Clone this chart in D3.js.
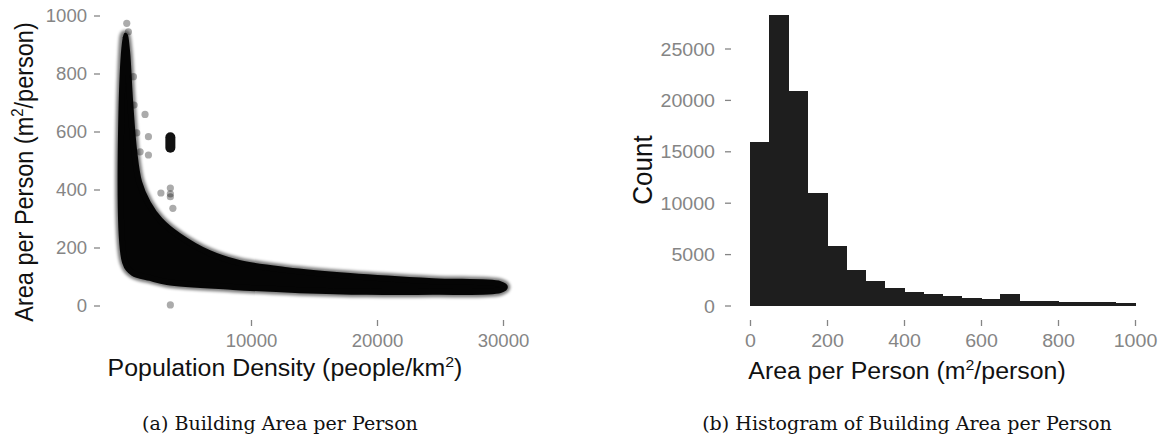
<!DOCTYPE html>
<html>
<head>
<meta charset="utf-8">
<script src="https://cdn.jsdelivr.net/npm/d3@7"></script>
<style>
  body { margin: 0; background: #fff; }
</style>
</head>
<body>
<svg id="mainsvg" width="1160" height="444"></svg>
<script>
// (a) scatter: outline of the dense cloud, [density, area]
const cloudTop = [[0, 930], [170, 874], [400, 709], [720, 536], [1120, 426], [1830, 353], [2780, 295],
  [4290, 240], [6670, 181], [9050, 147], [12860, 122], [17860, 102], [24440, 84], [29760, 74], [30150, 64]]
const cloudBottom = [[29760, 53], [24440, 47], [19200, 47], [13890, 53], [8580, 64], [3340, 81],
  [1990, 95], [640, 112], [0, 150]]
// loose points outside the cloud
const strayDensity = [140, 270, 670, 720, 935, 1200, 1590, 1860, 1860, 2850, 3600, 3600, 3600, 3800, 3600]
const strayArea = [973, 944, 789, 691, 595, 530, 659, 582, 519, 388, 405, 385, 375, 335, 2]
// the tight stack of points near 3600 people/km2
const stackDensity = 3600
const stackArea = [544, 580]

// (b) histogram, bins of 50 m2/person
const binStart = [0, 50, 100, 150, 200, 250, 300, 350, 400, 450, 500, 550, 600, 650, 700, 750, 800, 850, 900, 950]
const binCount = [15900, 28300, 20900, 10900, 5800, 3500, 2350, 1750, 1350, 1080, 900, 700, 620, 1100, 480, 420, 330, 300, 300, 280]
const binWidth = 50

const densityTicks = [10000, 20000, 30000]
const areaTicks = [0, 200, 400, 600, 800, 1000]
const countTicks = [0, 5000, 10000, 15000, 20000, 25000]

const svg = d3.select('#mainsvg')
const SX = 1.06   // the figure is a bit wider than tall
const tickGrey = '#858585'
const sans = '"Liberation Sans", Arial, sans-serif'

const defs = svg.append('defs')
defs.append('filter').attr('id', 'fuzz').attr('x', '-10%').attr('y', '-10%').attr('width', '120%').attr('height', '120%')
  .append('feGaussianBlur').attr('stdDeviation', 1.4)

//// left panel
const xA = d3.scaleLinear().domain([0, 30000]).range([125, 503])
const yA = d3.scaleLinear().domain([0, 1000]).range([305.5, 15.5])
const gA = svg.append('g')

const outline = cloudTop.concat(cloudBottom)
const cloudLine = d3.line().x(d => xA(d[0])).y(d => yA(d[1])).curve(d3.curveCatmullRomClosed.alpha(0.5))

gA.append('path')
  .attr('d', cloudLine(outline))
  .attr('fill', '#000').attr('stroke', '#000')
  .attr('stroke-width', 11).attr('stroke-linejoin', 'round')
  .attr('opacity', 0.5)
  .attr('filter', 'url(#fuzz)')
gA.append('path')
  .attr('d', cloudLine(outline))
  .attr('fill', '#050505').attr('stroke', '#050505')
  .attr('stroke-width', 6).attr('stroke-linejoin', 'round')

gA.append('line')
  .attr('x1', xA(stackDensity)).attr('x2', xA(stackDensity))
  .attr('y1', yA(stackArea[0])).attr('y2', yA(stackArea[1]))
  .attr('stroke', '#111').attr('stroke-width', 10).attr('stroke-linecap', 'round')

gA.selectAll('circle.stray')
  .data(strayDensity.map((d, i) => [d, strayArea[i]]))
  .join('circle')
  .attr('class', 'stray')
  .attr('cx', d => xA(d[0])).attr('cy', d => yA(d[1]))
  .attr('r', 3.6)
  .attr('fill', '#000').attr('fill-opacity', 0.33)

//// right panel
const xB = d3.scaleLinear().domain([0, 1000]).range([750, 1135])
const yB = d3.scaleLinear().domain([0, 25000]).range([305.5, 48.5])
const gB = svg.append('g').attr('shape-rendering', 'crispEdges')

gB.selectAll('rect')
  .data(binStart.map((s, i) => ({ s, c: binCount[i] })))
  .join('rect')
  .attr('x', d => xB(d.s))
  .attr('width', d => xB(d.s + binWidth) - xB(d.s) + 0.5)
  .attr('y', d => yB(d.c))
  .attr('height', d => yB(0) - yB(d.c))
  .attr('fill', '#1e1e1e')

//// axes
const styleAxis = (g, size) => {
  g.select('.domain').remove()
  g.selectAll('.tick line').attr('stroke', tickGrey).attr('stroke-width', 1.3)
  g.selectAll('.tick text').attr('fill', tickGrey).attr('font-size', size)
    .attr('font-family', sans)
}

const leftAxis = (x0, scale, ticks, labelRight, size) => {
  const g = svg.append('g').attr('transform', `translate(${x0},0)`)
    .call(d3.axisLeft(scale).tickValues(ticks).tickSize(6).tickFormat(d3.format('d')))
  styleAxis(g, size)
  g.selectAll('.tick text')
    .attr('x', -(x0 - labelRight) / SX).attr('dy', '0.36em')
    .attr('transform', `scale(${SX},1)`)
}
const bottomAxis = (scale, ticks, size) => {
  const g = svg.append('g').attr('transform', 'translate(0,320)')
    .call(d3.axisBottom(scale).tickValues(ticks).tickSize(6).tickFormat(d3.format('d')))
  styleAxis(g, size)
  g.selectAll('.tick text')
    .attr('y', 27).attr('dy', 0)
    .attr('transform', `scale(${SX},1)`)
}

leftAxis(100, yA, areaTicks, 87, 17.5)
bottomAxis(xA, densityTicks, 17.5)
leftAxis(731, yB, countTicks, 715, 18.5)
bottomAxis(xB, areaTicks, 18.5)

//// titles
const addParts = (t, parts) => parts.forEach(p => {
  t.append('tspan').text(p.t)
    .attr('dy', p.dy || 0)
    .attr('font-size', p.small ? 15 : null)
})
const hTitle = (cx, y, parts) => {
  const t = svg.append('text')
    .attr('transform', `translate(${cx},${y}) scale(${SX},1)`)
    .attr('text-anchor', 'middle').attr('font-family', sans).attr('font-size', 23.5).attr('fill', '#111')
  addParts(t, parts)
}
const vTitle = (x, cy, parts, size) => {
  const t = svg.append('text')
    .attr('transform', `translate(${x},${cy}) rotate(-90) scale(1,${SX})`)
    .attr('text-anchor', 'middle').attr('font-family', sans).attr('font-size', size).attr('fill', '#111')
  addParts(t, parts)
}

hTitle(285, 376, [{ t: 'Population Density (people/km' }, { t: '2', small: true, dy: -9 }, { t: ')', dy: 9 }])
hTitle(907, 379, [{ t: 'Area per Person (m' }, { t: '2', small: true, dy: -9 }, { t: '/person)', dy: 9 }])
vTitle(33, 172, [{ t: 'Area per Person (m' }, { t: '2', small: true, dy: -9 }, { t: '/person)', dy: 9 }], 23.5)
vTitle(652, 170, [{ t: 'Count' }], 26)

//// captions
const caption = (cx, text) => svg.append('text')
  .attr('transform', `translate(${cx},430) scale(${SX},1)`)
  .attr('text-anchor', 'middle')
  .attr('font-family', '"DejaVu Serif", "Liberation Serif", serif')
  .attr('font-size', 18)
  .attr('fill', '#111')
  .text(text)

caption(280, '(a) Building Area per Person')
caption(907, '(b) Histogram of Building Area per Person')
</script>
</body>
</html>
